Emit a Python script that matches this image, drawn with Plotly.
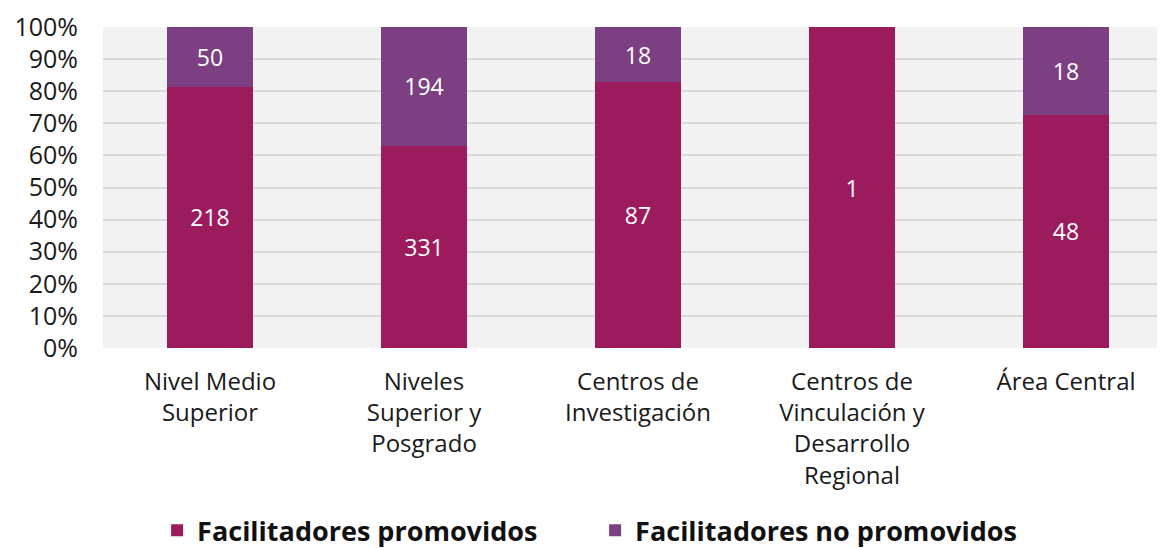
import plotly.graph_objects as go

categories = ["Nivel Medio<br>Superior", "Niveles<br>Superior y<br>Posgrado", "Centros de<br>Investigación",
              "Centros de<br>Vinculación y<br>Desarrollo<br>Regional", "Área Central"]
promovidos = [218, 331, 87, 1, 48]
no_promovidos = [50, 194, 18, 0, 18]
tick_vals = [0, 10, 20, 30, 40, 50, 60, 70, 80, 90, 100]

FONT = "Open Sans"
fig = go.Figure()
fig.add_trace(go.Bar(
    x=categories, y=promovidos, name="Facilitadores promovidos",
    marker=dict(color="#9C1B5D", line=dict(width=0)), text=[str(v) for v in promovidos],
    textposition="inside", insidetextanchor="middle",
    textfont=dict(color="white", size=23, family=FONT), hoverinfo="skip"))
fig.add_trace(go.Bar(
    x=categories, y=no_promovidos, name="Facilitadores no promovidos",
    marker=dict(color="#7B3F82", line=dict(width=0)), text=[str(v) for v in no_promovidos],
    textposition="inside", insidetextanchor="middle",
    textfont=dict(color="white", size=23, family=FONT), hoverinfo="skip"))

fig.update_layout(
    barmode="stack", barnorm="percent", bargap=0.6,
    width=1165, height=548,
    margin=dict(l=95, r=0, t=19, b=208, autoexpand=False),
    paper_bgcolor="white", plot_bgcolor="#F2F2F2",
    font=dict(family=FONT, size=23, color="#1a1a1a"),
    uniformtext=dict(mode="show", minsize=10),
    legend=dict(orientation="h", x=0.128, xanchor="left", y=0.046, yanchor="middle",
                xref="container", yref="container", traceorder="normal",
                font=dict(family=FONT, size=27, color="#111", weight="bold"),
                itemwidth=30, entrywidthmode="pixels", entrywidth=393),
    showlegend=True,
)
fig.update_yaxes(range=[0, 100], tickvals=tick_vals, ticktext=[f"{v}%" for v in tick_vals],
                 showgrid=True, gridcolor="#D9D9D9", gridwidth=2, zeroline=False,
                 ticks="", ticklabelstandoff=24, tickfont=dict(size=25, family=FONT))
fig.update_xaxes(showgrid=False, ticks="", tickfont=dict(size=24, family=FONT), tickangle=0,
                 ticklabelstandoff=17)

fig.write_html("out.html")
